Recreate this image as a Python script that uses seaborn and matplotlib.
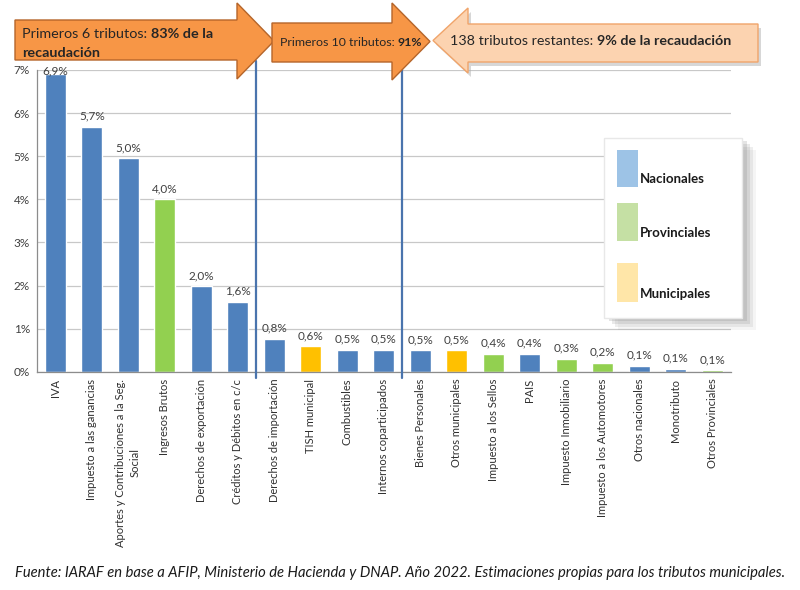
import matplotlib
matplotlib.use("Agg")
import matplotlib.pyplot as plt
from matplotlib.patches import Polygon, Rectangle
from matplotlib.text import Annotation
import seaborn as sns
import pandas as pd

# Datos (lectura del gráfico)
tributos = ["IVA", "Impuesto a las ganancias", "Aportes y Contribuciones a la Seg.\nSocial",
            "Ingresos Brutos", "Derechos de exportación", "Créditos y Débitos en c/c",
            "Derechos de importación", "TISH municipal", "Combustibles", "Internos coparticipados",
            "Bienes Personales", "Otros municipales", "Impuesto a los Sellos", "PAIS",
            "Impuesto Inmobiliario", "Impuesto a los Automotores", "Otros nacionales",
            "Monotributo", "Otros Provinciales"]
nivel = ["Nacionales", "Nacionales", "Nacionales", "Provinciales", "Nacionales", "Nacionales",
         "Nacionales", "Municipales", "Nacionales", "Nacionales", "Nacionales", "Municipales",
         "Provinciales", "Nacionales", "Provinciales", "Provinciales", "Nacionales",
         "Nacionales", "Provinciales"]
recaudacion = [6.9, 5.68, 4.95, 4.0, 1.98, 1.62, 0.77, 0.59, 0.51, 0.51,
               0.50, 0.50, 0.42, 0.42, 0.30, 0.21, 0.14, 0.07, 0.03]
etiquetas = ["6,9%", "5,7%", "5,0%", "4,0%", "2,0%", "1,6%", "0,8%", "0,6%", "0,5%", "0,5%",
             "0,5%", "0,5%", "0,4%", "0,4%", "0,3%", "0,2%", "0,1%", "0,1%", "0,1%"]
yticks = [0, 1, 2, 3, 4, 5, 6, 7]
cortes = [5.5, 9.5]  # primeros 6 / primeros 10

colores = {"Nacionales": "#4f81bd", "Provinciales": "#92d050", "Municipales": "#ffc000"}
colores_ley = {"Nacionales": "#9dc3e6", "Provinciales": "#c5e0a4", "Municipales": "#ffe6a8"}

df = pd.DataFrame({"tributo": tributos, "nivel": nivel, "valor": recaudacion})

sns.set_theme(style="white")
plt.rcParams["font.family"] = ["Lato", "DejaVu Sans"]

W, H = 800, 590
fig = plt.figure(figsize=(8, 5.9), dpi=100)
ax = fig.add_axes([37 / W, 1 - 371.7 / H, 693.5 / W, (371.7 - 70) / H])


def px(x, y):
    return (x / W, 1 - y / H)


sns.barplot(data=df, x="tributo", y="valor", hue="nivel", palette=colores, dodge=False,
            width=0.58, legend=False, ax=ax, saturation=1)

ax.set_xlim(-0.5, len(tributos) - 0.5)
ax.set_ylim(0, 7)
ax.set_yticks(yticks)
ax.set_yticklabels([f"{t}%" for t in yticks], fontsize=8.5, color="#404040")
ax.set_xlabel("")
ax.set_ylabel("")
ax.set_xticks(range(len(tributos)))
ax.set_xticklabels(tributos, rotation=90, fontsize=8.0, color="#303030", linespacing=1.4)
ax.tick_params(axis="x", length=0, pad=5)
ax.tick_params(axis="y", length=0, pad=5)
ax.set_xticks([i - 0.5 for i in range(len(tributos) + 1)], minor=True)
ax.tick_params(axis="x", which="minor", length=4, color="#888888", direction="out")
ax.yaxis.grid(True, color="#c8c8c8", linewidth=0.9)
ax.set_axisbelow(True)
for s in ["top", "right"]:
    ax.spines[s].set_visible(False)
for s in ["left", "bottom"]:
    ax.spines[s].set_color("#8c8c8c")
    ax.spines[s].set_linewidth(0.9)

for i, (v, lab) in enumerate(zip(recaudacion, etiquetas)):
    ax.text(i, min(v + 0.12, 6.86), lab, ha="center", va="bottom", fontsize=8.5,
            color="#404040", clip_on=False)

for c in cortes:
    ax.plot([c, c], [-0.15, 7.2], color="#4a74ad", linewidth=1.6, clip_on=False, zorder=5)


# Flechas superiores
def flecha(x0, x1, y0, y1, tip, hy0, hy1, direction=1):
    ym = (hy0 + hy1) / 2
    if direction == 1:
        pts = [(x0, y0), (x1, y0), (x1, hy0), (tip, ym), (x1, hy1), (x1, y1), (x0, y1)]
    else:
        pts = [(x1, y0), (x0, y0), (x0, hy0), (tip, ym), (x0, hy1), (x0, y1), (x1, y1)]
    return [px(*p) for p in pts]


fig.patches.append(Polygon(flecha(471, 761, 28, 66, 436, 12, 77, -1), closed=True,
                           transform=fig.transFigure, facecolor="#b0b0b0", edgecolor="none",
                           alpha=0.5))
fig.patches.append(Polygon(flecha(468, 758, 24, 62, 433, 8, 73, -1), closed=True,
                           transform=fig.transFigure, facecolor="#fcd3b0",
                           edgecolor="#f0a46a", linewidth=1))
fig.patches.append(Polygon(flecha(15, 237, 20, 60, 274, 3, 79), closed=True,
                           transform=fig.transFigure, facecolor="#f79646",
                           edgecolor="#b5652a", linewidth=1))
fig.patches.append(Polygon(flecha(272, 392, 23, 62, 430, 3, 80), closed=True,
                           transform=fig.transFigure, facecolor="#f79646",
                           edgecolor="#b5652a", linewidth=1))


def texto_mixto(x, y, partes, size):
    prev = None
    for txt, peso in partes:
        if prev is None:
            prev = fig.text(*px(x, y), txt, ha="left", va="baseline", fontsize=size,
                            fontweight=peso, color="#262626", zorder=10)
        else:
            prev = fig.add_artist(Annotation(txt, xy=(1, 0), xycoords=prev, ha="left",
                                             va="bottom", fontsize=size, fontweight=peso,
                                             color="#262626", zorder=10))
    return prev


texto_mixto(22, 38, [("Primeros 6 tributos: ", "normal"), ("83% de la", "bold")], 10.4)
texto_mixto(22, 57, [("recaudación", "bold")], 10.4)
texto_mixto(280, 46, [("Primeros 10 tributos: ", "normal"), ("91%", "bold")], 8.9)
texto_mixto(450, 45, [("138 tributos restantes: ", "normal"), ("9% de la recaudación", "bold")], 10.3)

# Leyenda como recuadro
for k, a in [(12, 0.07), (9, 0.12), (6, 0.16), (3, 0.2)]:
    fig.patches.append(Rectangle(px(606 + k, 318 + k), 138 / W, 180 / H, transform=fig.transFigure,
                                 facecolor="#7a7a7a", edgecolor="none", alpha=a, zorder=6))
fig.patches.append(Rectangle(px(604, 318), 138 / W, 180 / H, transform=fig.transFigure,
                             facecolor="white", edgecolor="#e8e8e8", zorder=7))
for (nombre, col), (y0, y1) in zip(colores_ley.items(), [(150, 187), (203, 241), (263, 302)]):
    fig.patches.append(Rectangle(px(617, y1), 21 / W, (y1 - y0) / H, transform=fig.transFigure,
                                 facecolor=col, edgecolor="none", zorder=8))
    fig.text(*px(640, y1 - 4), nombre, fontsize=9.5, fontweight="bold", color="#1a1a1a",
             ha="left", va="baseline", zorder=9)

fig.text(*px(400, 577), "Fuente: IARAF en base a AFIP, Ministerio de Hacienda y DNAP. Año 2022. "
         "Estimaciones propias para los tributos municipales.", ha="center", va="baseline",
         fontsize=10.6, style="italic", color="#1a1a1a")

fig.savefig("out.png", dpi=100)
